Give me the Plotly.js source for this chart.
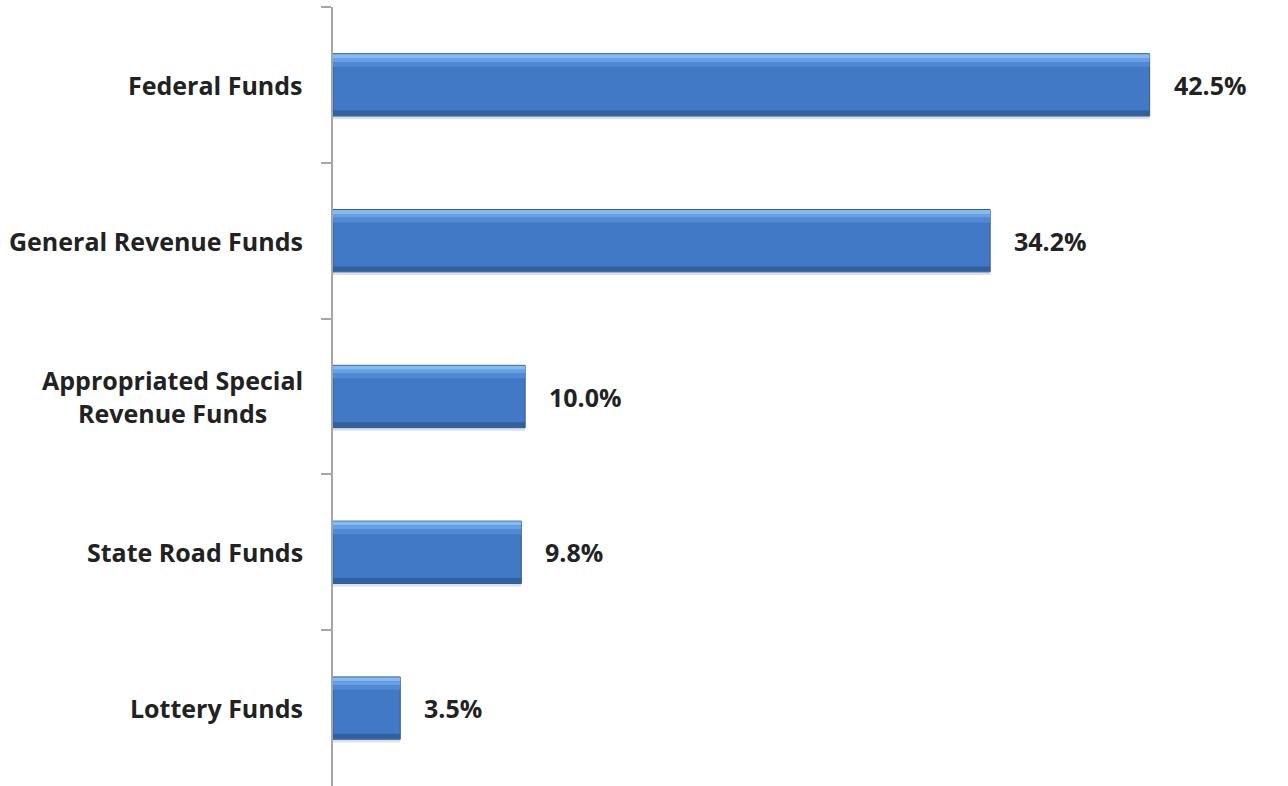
<!DOCTYPE html>
<html>
<head>
<meta charset="utf-8">
<script src="https://cdn.plot.ly/plotly-3.0.1.min.js"></script>
<style>
html,body{margin:0;padding:0;background:#fff;}
#chart{width:1288px;height:786px;}
</style>
</head>
<body>
<div id="chart"></div>
<script>
const categories = ["Federal Funds", "General Revenue Funds", "Appropriated Special<br>Revenue Funds", "State Road Funds", "Lottery Funds"];
const values = [42.5, 34.2, 10.0, 9.8, 3.5];
const valueLabels = values.map(v => v.toFixed(1) + "%");

const FONT = "'Open Sans', sans-serif";

const shadow = {
  type: "bar", orientation: "h", x: values, y: categories,
  width: 0.4, offset: -0.18,
  marker: {color: "rgba(0,0,0,0.12)", line: {width: 0}},
  hoverinfo: "skip"
};
const main = {
  type: "bar", orientation: "h", x: values, y: categories,
  width: 0.4, offset: -0.2,
  marker: {color: "#4279c6", line: {color: "#2d5a97", width: 1}},
  hoverinfo: "x+y"
};
const highlight = {
  type: "bar", orientation: "h", x: values, y: categories,
  width: 0.025, offset: -0.197,
  marker: {color: "#84bbf1", line: {width: 0}},
  hoverinfo: "skip"
};
const highlight2 = {
  type: "bar", orientation: "h", x: values, y: categories,
  width: 0.025, offset: -0.172,
  marker: {color: "#68a1e3", line: {width: 0}},
  hoverinfo: "skip"
};
const highlight3 = {
  type: "bar", orientation: "h", x: values, y: categories,
  width: 0.03, offset: -0.147,
  marker: {color: "#5189d3", line: {width: 0}},
  hoverinfo: "skip"
};
const dark = {
  type: "bar", orientation: "h", x: values, y: categories,
  width: 0.03, offset: 0.165,
  marker: {color: "#30619f", line: {width: 0}},
  hoverinfo: "skip"
};

const annotations = [];
categories.forEach((c, i) => {
  annotations.push({
    xref: "paper", yref: "y", x: 0, y: c, xanchor: "right", yanchor: "middle",
    xshift: -28, text: "<b>" + c + "</b>", showarrow: false, align: "center",
    font: {family: FONT, size: 25, color: "#222"}
  });
  annotations.push({
    xref: "x", yref: "y", x: values[i], y: c, xanchor: "left", yanchor: "middle",
    xshift: 22, text: "<b>" + valueLabels[i] + "</b>", showarrow: false,
    font: {family: FONT, size: 25, color: "#222"}
  });
});

const layout = {
  width: 1288, height: 786,
  margin: {l: 333, r: 0, t: 7, b: 0},
  paper_bgcolor: "#fff", plot_bgcolor: "#fff",
  showlegend: false,
  barmode: "overlay",
  xaxis: {range: [0, 49.7], visible: false, showgrid: false, zeroline: false},
  yaxis: {
    type: "category", autorange: "reversed",
    showline: true, linecolor: "#a6a6a6", linewidth: 2,
    ticks: "outside", tickson: "boundaries", ticklen: 10, tickcolor: "#a6a6a6", tickwidth: 2,
    showticklabels: false, showgrid: false, zeroline: false
  },
  annotations: annotations
};

Plotly.newPlot("chart", [shadow, main, highlight, highlight2, highlight3, dark], layout, {displayModeBar: false, staticPlot: true});
</script>
</body>
</html>
